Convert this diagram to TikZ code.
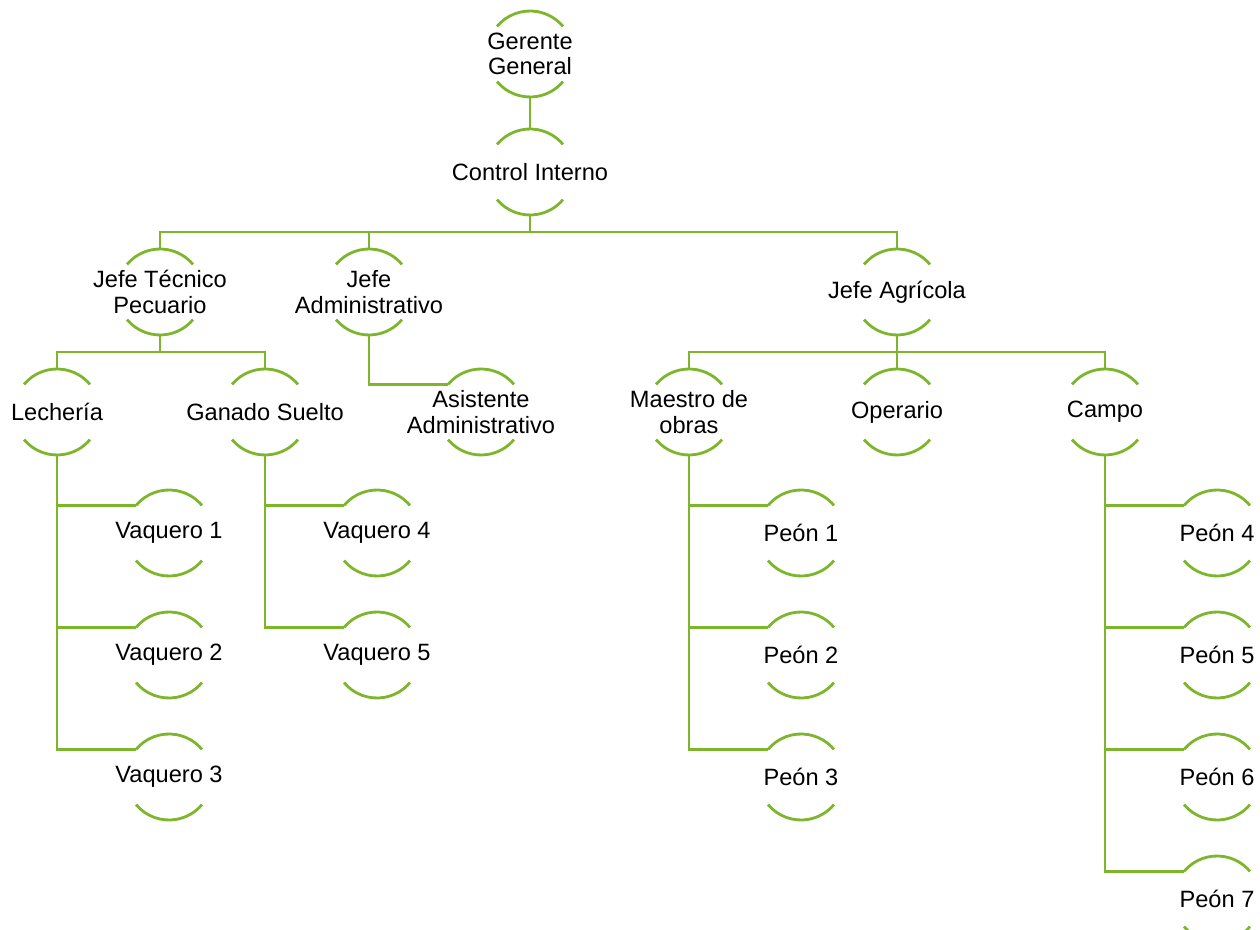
\documentclass[tikz,border=0pt]{standalone}
\usepackage{fontspec}
\setmainfont{Liberation Sans}
\usetikzlibrary{positioning}
\definecolor{leafgreen}{RGB}{125,182,45}
\begin{document}
\begin{tikzpicture}[x=0.5pt, y=0.5pt]
    \tikzstyle{line} = [draw = leafgreen, line width = 1.4pt]
    \tikzstyle{post} = [circle, minimum size = 43pt, inner sep = 0pt, outer sep = 0pt]
    \tikzset{every label/.style = {align = center, text = black, font = \fontsize{11.8}{12.6}\selectfont}}
    \useasboundingbox (0,0) rectangle (1260,-930);
    \tikzset{node distance = 60pt}

    \node[post, label = center:{Gerente\\General}](G) at (530,-54){};
    \node[post, below of = G, yshift = 1pt, label = center:{Control Interno}](C){};
    \node[post, below of = C, xshift = -185pt, label = center:{Jefe Técnico\\Pecuario}](JT){};
    \node[post, below of = C, xshift = -80.5pt, label = center:{Jefe\\Administrativo}](JA){};
    \node[post, below of = C, xshift = 183.5pt, label = center:{Jefe Agrícola}](JG){};
    \node[post, below of = JT, xshift = -51.5pt, label = center:{Lechería}](L){};
    \node[post, below of = JT, xshift = 52.5pt, label = center:{Ganado Suelto}](GS){};
    \node[post, below of = JA, xshift = 56pt, label = center:{Asistente\\Administrativo}](AA){};
    \node[post, below of = JG, xshift = -104pt, label = center:{Maestro de\\obras}](MO){};
    \node[post, below of = JG, label = center:{Operario}](OP){};
    \node[post, below of = JG, xshift = 104pt, label = center:{Campo}](CA){};
    \node[post, below of = L, xshift = 56pt, yshift = -0.5pt, label = center:{Vaquero 1}](V1){};
    \node[post, below of = V1, yshift = -1pt, label = center:{Vaquero 2}](V2){};
    \node[post, below of = V2, yshift = -1pt, label = center:{Vaquero 3}](V3){};
    \node[post, below of = GS, xshift = 56pt, yshift = -0.5pt, label = center:{Vaquero 4}](V4){};
    \node[post, below of = V4, yshift = -1pt, label = center:{Vaquero 5}](V5){};
    \node[post, below of = MO, xshift = 56pt, yshift = -0.5pt, label = center:{Peón 1}](P1){};
    \node[post, below of = P1, yshift = -1pt, label = center:{Peón 2}](P2){};
    \node[post, below of = P2, yshift = -1pt, label = center:{Peón 3}](P3){};
    \node[post, below of = CA, xshift = 56pt, yshift = -0.5pt, label = center:{Peón 4}](P4){};
    \node[post, below of = P4, yshift = -1pt, label = center:{Peón 5}](P5){};
    \node[post, below of = P5, yshift = -1pt, label = center:{Peón 6}](P6){};
    \node[post, below of = P6, yshift = -1pt, label = center:{Peón 7}](P7){};

    % arcs above and below every post
    \foreach \n in {G,C,JT,JA,JG,L,GS,AA,MO,OP,CA,V1,V2,V3,V4,V5,P1,P2,P3,P4,P5,P6,P7}
    {
        \draw[line] (\n.140) arc (140:40:21.5pt);
        \draw[line] (\n.220) arc (220:320:21.5pt);
    }

    \draw[line] (G)--(C);
    \draw[line] (C.south) -- ++(0,-17) -| (JT.north);
    \draw[line] (C.south) -- ++(0,-17) -| (JA.north);
    \draw[line] (C.south) -- ++(0,-17) -| (JG.north);
    \draw[line] (JT.south) -- ++(0,-17) -| (L.north);
    \draw[line] (JT.south) -- ++(0,-17) -| (GS.north);
    \draw[line] (JA.south) |- (AA.140);
    \draw[line] (JG.south) -- ++(0,-17) -| (MO.north);
    \draw[line] (JG.south) -- ++(0,-17) -| (OP.north);
    \draw[line] (JG.south) -- ++(0,-17) -| (CA.north);
    \draw[line] (L.south) |- (V1.140);
    \draw[line] (L.south) |- (V2.140);
    \draw[line] (L.south) |- (V3.140);
    \draw[line] (GS.south) |- (V4.140);
    \draw[line] (GS.south) |- (V5.140);
    \draw[line] (MO.south) |- (P1.140);
    \draw[line] (MO.south) |- (P2.140);
    \draw[line] (MO.south) |- (P3.140);
    \draw[line] (CA.south) |- (P4.140);
    \draw[line] (CA.south) |- (P5.140);
    \draw[line] (CA.south) |- (P6.140);
    \draw[line] (CA.south) |- (P7.140);
\end{tikzpicture}
\end{document}
